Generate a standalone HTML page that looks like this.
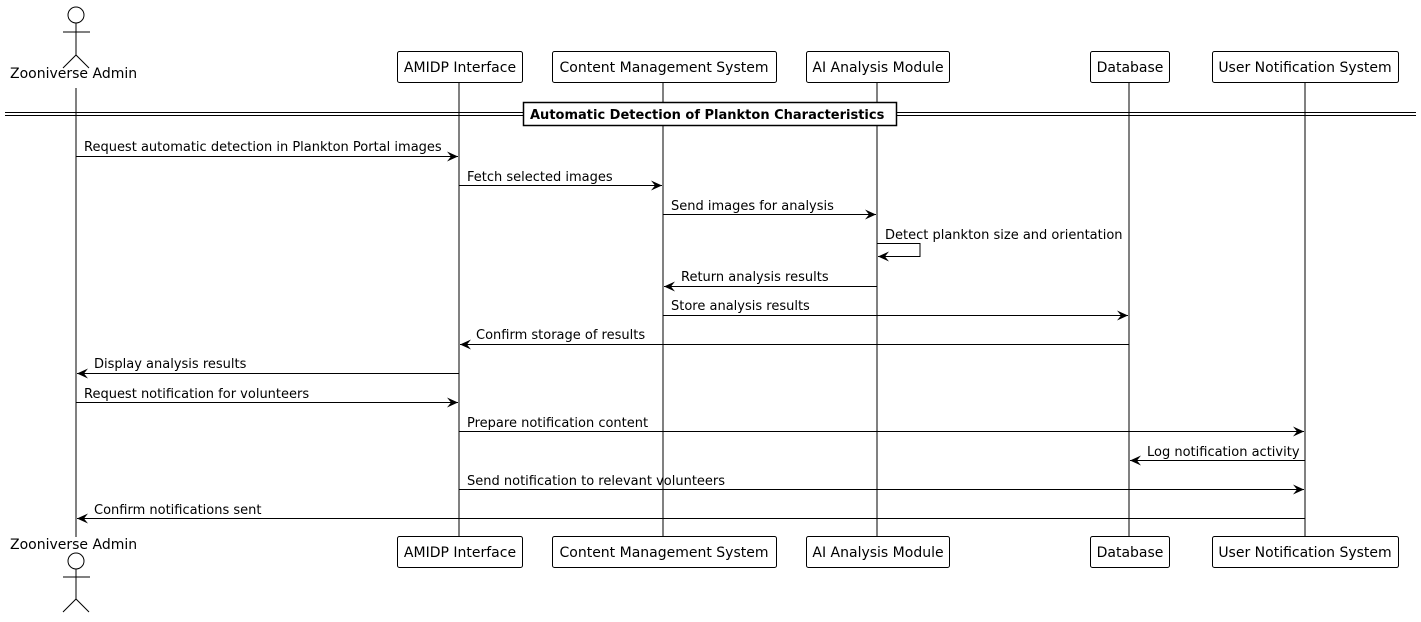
<!DOCTYPE html>
<html><head><meta charset="utf-8"><style>
html,body{margin:0;padding:0;background:#fff;}
svg text{font-family:"DejaVu Sans","Liberation Sans",sans-serif;font-size:13px;fill:#000;}
svg text.p{font-size:14px;}
</style></head><body>
<svg width="1421" height="617" viewBox="0 0 1421 617" xmlns="http://www.w3.org/2000/svg">
<defs><marker id="a" markerWidth="12" markerHeight="10" refX="11" refY="5" orient="auto" markerUnits="userSpaceOnUse"><path d="M0,0 L11,5 L0,10 L4,5 Z" fill="#000"/></marker></defs>
<g stroke="#000" stroke-width="1" fill="none">
<line x1="76" y1="88" x2="76" y2="537"/>
<line x1="459" y1="82" x2="459" y2="537"/>
<line x1="663" y1="82" x2="663" y2="537"/>
<line x1="877" y1="82" x2="877" y2="537"/>
<line x1="1129" y1="82" x2="1129" y2="537"/>
<line x1="1305" y1="82" x2="1305" y2="537"/>
</g>
<g stroke="#000" stroke-width="1" fill="#fff">
<circle cx="76" cy="15" r="8"/>
<line x1="76" y1="23" x2="76" y2="55"/><line x1="63" y1="32" x2="90" y2="32"/>
<polyline points="63,68 76,55 89,68" fill="none"/>
<circle cx="76" cy="561" r="8"/>
<line x1="76" y1="569" x2="76" y2="599"/><line x1="63" y1="577" x2="90" y2="577"/>
<polyline points="63,612 76,599 89,612" fill="none"/>
</g>
<text class="p" x="10" y="78">Zooniverse Admin</text>
<text class="p" x="10" y="549">Zooniverse Admin</text>
<g stroke="#000" stroke-width="1" fill="#fff">
<rect x="397.5" y="51.5" width="125" height="31" rx="2"/>
<rect x="552.5" y="51.5" width="224" height="31" rx="2"/>
<rect x="806.5" y="51.5" width="143" height="31" rx="2"/>
<rect x="1090.5" y="51.5" width="79" height="31" rx="2"/>
<rect x="1212.5" y="51.5" width="186" height="31" rx="2"/>
<rect x="397.5" y="536.5" width="125" height="31" rx="2"/>
<rect x="552.5" y="536.5" width="224" height="31" rx="2"/>
<rect x="806.5" y="536.5" width="143" height="31" rx="2"/>
<rect x="1090.5" y="536.5" width="79" height="31" rx="2"/>
<rect x="1212.5" y="536.5" width="186" height="31" rx="2"/>
</g>
<g text-anchor="middle">
<text class="p" x="460" y="72">AMIDP Interface</text>
<text class="p" x="664" y="72">Content Management System</text>
<text class="p" x="878" y="72">AI Analysis Module</text>
<text class="p" x="1130" y="72">Database</text>
<text class="p" x="1305" y="72">User Notification System</text>
<text class="p" x="460" y="557">AMIDP Interface</text>
<text class="p" x="664" y="557">Content Management System</text>
<text class="p" x="878" y="557">AI Analysis Module</text>
<text class="p" x="1130" y="557">Database</text>
<text class="p" x="1305" y="557">User Notification System</text>
</g>
<g stroke="#000" stroke-width="1" fill="none">
<line x1="5" y1="112.5" x2="1416" y2="112.5"/>
<line x1="5" y1="115.5" x2="1416" y2="115.5"/>
</g>
<rect x="523.5" y="102.5" width="373" height="23" fill="#fff" stroke="#000" stroke-width="1.5"/>
<text x="530" y="119" style="font-weight:bold">Automatic Detection of Plankton Characteristics</text>
<g stroke="#000" stroke-width="1" fill="none" marker-end="url(#a)">
<line x1="76" y1="156.5" x2="458" y2="156.5"/>
<line x1="459" y1="185.5" x2="662" y2="185.5"/>
<line x1="663" y1="214.5" x2="876" y2="214.5"/>
<polyline points="877,243.5 920,243.5 920,256.5 878,256.5"/>
<line x1="877" y1="286.5" x2="664" y2="286.5"/>
<line x1="663" y1="315.5" x2="1128" y2="315.5"/>
<line x1="1129" y1="344.5" x2="460" y2="344.5"/>
<line x1="459" y1="373.5" x2="77" y2="373.5"/>
<line x1="76" y1="402.5" x2="458" y2="402.5"/>
<line x1="459" y1="431.5" x2="1304" y2="431.5"/>
<line x1="1305" y1="460.5" x2="1130" y2="460.5"/>
<line x1="459" y1="489.5" x2="1304" y2="489.5"/>
<line x1="1305" y1="518.5" x2="77" y2="518.5"/>
</g>
<text x="84" y="151">Request automatic detection in Plankton Portal images</text>
<text x="467" y="181">Fetch selected images</text>
<text x="671" y="210">Send images for analysis</text>
<text x="885" y="239">Detect plankton size and orientation</text>
<text x="681" y="281">Return analysis results</text>
<text x="671" y="310">Store analysis results</text>
<text x="476" y="339">Confirm storage of results</text>
<text x="94" y="368">Display analysis results</text>
<text x="84" y="398">Request notification for volunteers</text>
<text x="467" y="427">Prepare notification content</text>
<text x="1147" y="456">Log notification activity</text>
<text x="467" y="485">Send notification to relevant volunteers</text>
<text x="94" y="514">Confirm notifications sent</text>
</svg>
</body></html>
